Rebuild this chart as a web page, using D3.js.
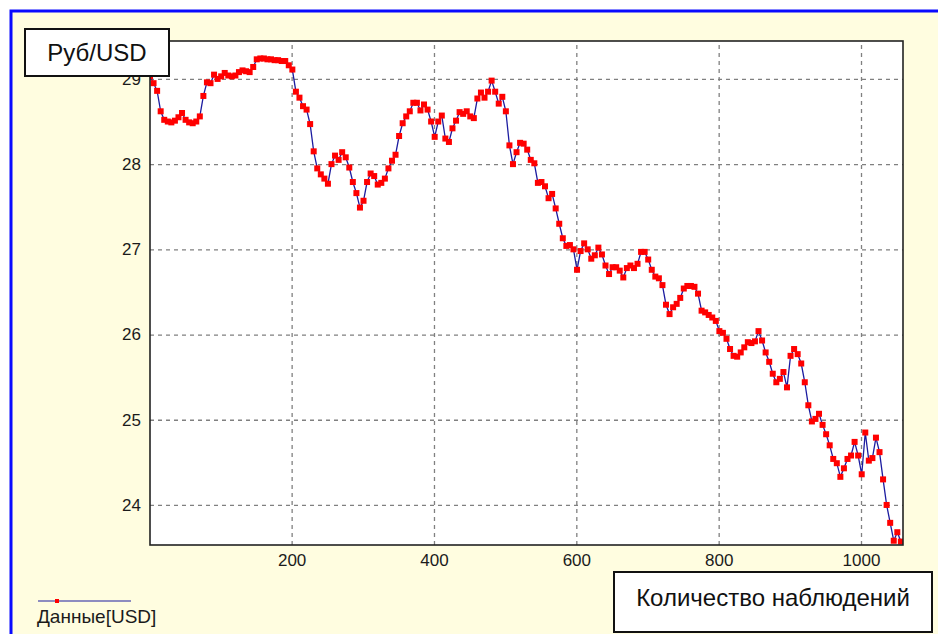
<!DOCTYPE html>
<html>
<head>
<meta charset="utf-8">
<script src="https://cdn.jsdelivr.net/npm/d3@7"></script>
<style>
  html, body { margin: 0; padding: 0; background: #ffffff; }
  svg { display: block; font-family: Arial, "Liberation Sans", sans-serif; }
</style>
</head>
<body>
<svg id="chart" width="938" height="634"></svg>
<script>
// Exchange rate, RUB per USD, one value every 5th observation
const firstObs = 1;
const obsStep = 5;
const rates = [
  29.03, 28.95, 28.86, 28.62, 28.52, 28.50, 28.49, 28.51, 28.55, 28.60,
  28.52, 28.49, 28.48, 28.50, 28.56, 28.80, 28.96, 28.95, 29.05, 29.00,
  29.03, 29.07, 29.04, 29.03, 29.04, 29.08, 29.10, 29.09, 29.08, 29.14,
  29.23, 29.24, 29.24, 29.23, 29.23, 29.22, 29.22, 29.21, 29.21, 29.16,
  29.11, 28.85, 28.78, 28.68, 28.64, 28.47, 28.15, 27.95, 27.88, 27.83,
  27.77, 28.00, 28.10, 28.05, 28.14, 28.08, 27.96, 27.79, 27.66, 27.49,
  27.57, 27.79, 27.89, 27.86, 27.76, 27.78, 27.83, 27.95, 28.04, 28.11,
  28.33, 28.48, 28.56, 28.62, 28.72, 28.72, 28.63, 28.70, 28.64, 28.50,
  28.32, 28.50, 28.57, 28.30, 28.26, 28.42, 28.51, 28.61, 28.59, 28.62,
  28.56, 28.54, 28.77, 28.84, 28.78, 28.85, 28.98, 28.85, 28.71, 28.79,
  28.62, 28.22, 28.00, 28.14, 28.25, 28.24, 28.17, 28.05, 28.01, 27.78,
  27.79, 27.74, 27.60, 27.65, 27.48, 27.30, 27.13, 27.04, 27.05, 27.00,
  26.76, 26.98, 27.07, 27.00, 26.89, 26.93, 27.02, 26.94, 26.81, 26.71,
  26.79, 26.79, 26.75, 26.67, 26.78, 26.81, 26.78, 26.83, 26.97, 26.97,
  26.88, 26.76, 26.68, 26.66, 26.58, 26.35, 26.24, 26.32, 26.36, 26.43,
  26.54, 26.57, 26.57, 26.56, 26.48, 26.28, 26.26, 26.23, 26.20, 26.16,
  26.04, 26.02, 25.95, 25.83, 25.75, 25.74, 25.79, 25.85, 25.91, 25.90,
  25.92, 26.04, 25.93, 25.79, 25.68, 25.54, 25.44, 25.48, 25.56, 25.38,
  25.75, 25.83, 25.77, 25.66, 25.44, 25.17, 24.98, 25.01, 25.07, 24.94,
  24.83, 24.70, 24.54, 24.49, 24.33, 24.43, 24.54, 24.58, 24.74, 24.58,
  24.36, 24.85, 24.52, 24.55, 24.79, 24.62, 24.30, 24.00, 23.79, 23.58,
  23.68, 23.57
];
const xTicks = [200, 400, 600, 800, 1000];
const yTicks = [24, 25, 26, 27, 28, 29];
const yTitle = "Руб/USD";
const xTitle = "Количество наблюдений";
const seriesName = "Данные[USD]";

const points = rates.map((v, i) => ({ n: firstObs + i * obsStep, v }));

const svg = d3.select("#chart");
const plot = { left: 150, top: 41, right: 903, bottom: 545 };

// page panel
svg.append("rect").attr("x", 0).attr("y", 0).attr("width", 938).attr("height", 634).attr("fill", "#ffffff");
svg.append("rect").attr("x", 11).attr("y", 11).attr("width", 960).attr("height", 660)
  .attr("fill", "#fffde0").attr("stroke", "#0a0aff").attr("stroke-width", 3);

const x = d3.scaleLinear().domain([1, 1059]).range([plot.left, plot.right]);
const y = d3.scaleLinear().domain([23.53, 29.445]).range([plot.bottom, plot.top]);

svg.append("rect")
  .attr("x", plot.left).attr("y", plot.top)
  .attr("width", plot.right - plot.left).attr("height", plot.bottom - plot.top)
  .attr("fill", "#ffffff");

// axes with grid
const xAxis = svg.append("g")
  .attr("transform", `translate(0,${plot.bottom})`)
  .call(d3.axisBottom(x).tickValues(xTicks).tickFormat(d3.format("d"))
    .tickSize(-(plot.bottom - plot.top)).tickPadding(9));
const yAxis = svg.append("g")
  .attr("transform", `translate(${plot.left},0)`)
  .call(d3.axisLeft(y).tickValues(yTicks).tickFormat(d3.format("d"))
    .tickSize(-(plot.right - plot.left)).tickPadding(9));

[xAxis, yAxis].forEach(g => {
  g.select(".domain").remove();
  g.selectAll(".tick line")
    .attr("stroke", "#808080").attr("stroke-width", 1.3).attr("stroke-dasharray", "4,4");
  g.selectAll(".tick text")
    .attr("fill", "#1b1b1b").style("font-size", "17px");
});

// series
svg.append("clipPath").attr("id", "plotClip")
  .append("rect").attr("x", plot.left).attr("y", plot.top)
  .attr("width", plot.right - plot.left).attr("height", plot.bottom - plot.top);

const series = svg.append("g").attr("clip-path", "url(#plotClip)");
series.append("path")
  .datum(points)
  .attr("fill", "none").attr("stroke", "#1c1ca0").attr("stroke-width", 1.3)
  .attr("d", d3.line().x(d => x(d.n)).y(d => y(d.v)));
series.selectAll("rect.pt").data(points).join("rect")
  .attr("class", "pt")
  .attr("x", d => x(d.n) - 3).attr("y", d => y(d.v) - 3)
  .attr("width", 6).attr("height", 6)
  .attr("fill", "#ff0000");

// plot frame
svg.append("rect")
  .attr("x", plot.left).attr("y", plot.top)
  .attr("width", plot.right - plot.left).attr("height", plot.bottom - plot.top)
  .attr("fill", "none").attr("stroke", "#222222").attr("stroke-width", 1.6);

// axis title boxes
function titleBox(bx, by, bw, bh, label, size, baseline) {
  svg.append("rect").attr("x", bx).attr("y", by).attr("width", bw).attr("height", bh)
    .attr("fill", "#ffffff").attr("stroke", "#111111").attr("stroke-width", 2);
  svg.append("text").attr("x", bx + bw / 2).attr("y", baseline)
    .attr("text-anchor", "middle").attr("fill", "#111111")
    .style("font-size", size + "px").text(label);
}
titleBox(25, 29, 144, 47, yTitle, 24, 61);
titleBox(614, 572, 318, 60, xTitle, 24, 606);

// legend
const lg = svg.append("g");
lg.append("line").attr("x1", 38).attr("x2", 131).attr("y1", 601).attr("y2", 601)
  .attr("stroke", "#1c1ca0").attr("stroke-width", 1.2);
lg.append("rect").attr("x", 55).attr("y", 599).attr("width", 4).attr("height", 4).attr("fill", "#ff0000");
lg.append("text").attr("x", 37).attr("y", 623).attr("fill", "#1b1b1b")
  .style("font-size", "19px").text(seriesName);
</script>
</body>
</html>
